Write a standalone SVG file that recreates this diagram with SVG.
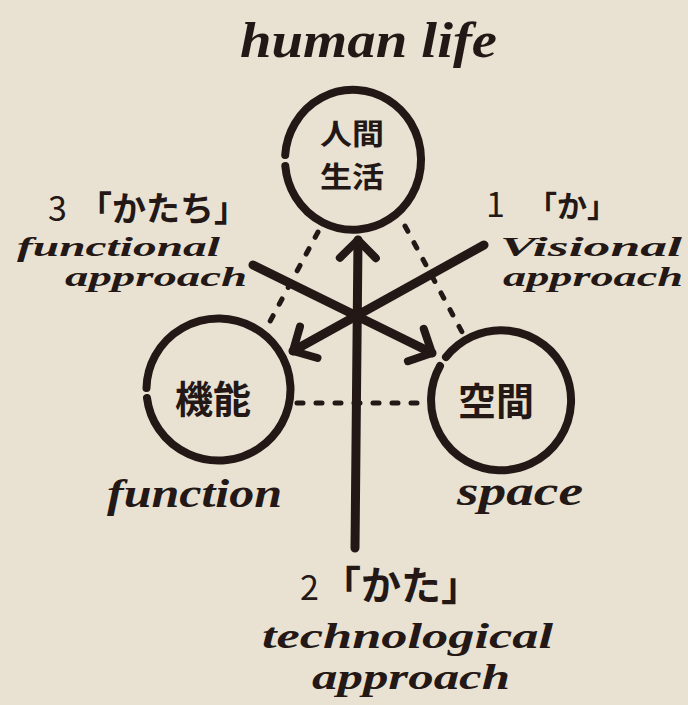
<svg xmlns="http://www.w3.org/2000/svg" width="688" height="705" viewBox="0 0 688 705">
  <style>
    .ink { stroke: #231815; fill: none; stroke-linecap: round; stroke-linejoin: round; }
    .ring { stroke-width: 8; }
    .arrow { stroke-width: 9; }
    .dash { stroke-width: 5; stroke-dasharray: 6 13; }
    .hand { font-family: "Liberation Serif", "DejaVu Serif", serif; font-style: italic; font-weight: 700; fill: #231815; }
    .jp { font-family: "Noto Sans CJK JP", "Noto Sans CJK SC", sans-serif; font-weight: 700; fill: #231815; }
  </style>
  <defs>
    <marker id="chev" markerUnits="userSpaceOnUse" viewBox="-30 -30 60 60" markerWidth="60" markerHeight="60" refX="0" refY="0" orient="auto" overflow="visible">
      <path class="ink" d="M-18,-18 L0,0 L-18,18" stroke-width="8"/>
    </marker>
  </defs>
  <rect width="688" height="705" fill="#e9e2d2"/>

  <text class="hand" x="240" y="57" font-size="50" textLength="257" lengthAdjust="spacingAndGlyphs">human life</text>

  <g id="connectors">
    <path class="ink dash" d="M318,232 L267,327"/>
    <path class="ink dash" d="M405,226 L462,332"/>
    <path class="ink dash" d="M297,403 L425,403"/>
    <path class="ink arrow" d="M355,548 L358,240" marker-end="url(#chev)"/>
    <path class="ink arrow" d="M484,245 L293,351" marker-end="url(#chev)"/>
    <path class="ink arrow" d="M253,265 L432,353" marker-end="url(#chev)"/>
  </g>

  <g id="node-human-life">
    <path class="ink ring" d="M285.2,155 A68 70 0 1 1 285.3,166"/>
    <text class="jp" x="352" y="145" font-size="29" text-anchor="middle" textLength="64" lengthAdjust="spacingAndGlyphs">人間</text>
    <text class="jp" x="352" y="188" font-size="29" text-anchor="middle" textLength="64" lengthAdjust="spacingAndGlyphs">生活</text>
  </g>

  <g id="node-function">
    <path class="ink ring" d="M146.5,388 A72 71 0 1 1 147,398"/>
    <text class="jp" x="213" y="413" font-size="38" text-anchor="middle">機能</text>
    <text class="hand" x="107" y="507" font-size="40" textLength="175" lengthAdjust="spacingAndGlyphs">function</text>
  </g>

  <g id="node-space">
    <path class="ink ring" d="M446,357 A70 70 0 1 1 440,366"/>
    <text class="jp" x="496" y="415" font-size="38" text-anchor="middle">空間</text>
    <text class="hand" x="457" y="505" font-size="40" textLength="126" lengthAdjust="spacingAndGlyphs">space</text>
  </g>

  <g id="label-functional">
    <text class="jp" y="221"><tspan x="48" font-size="34" font-weight="400">3</tspan><tspan x="78" font-size="34">「かたち」</tspan></text>
    <text class="hand" x="17" y="256" font-size="27" textLength="203" lengthAdjust="spacingAndGlyphs">functional</text>
    <text class="hand" x="65" y="286" font-size="27" textLength="182" lengthAdjust="spacingAndGlyphs">approach</text>
  </g>

  <g id="label-visional">
    <text class="jp" y="217"><tspan x="486" font-size="34" font-weight="400">1</tspan><tspan x="527" font-size="30">「か」</tspan></text>
    <text class="hand" x="500" y="256" font-size="27" textLength="182" lengthAdjust="spacingAndGlyphs">Visional</text>
    <text class="hand" x="503" y="286" font-size="27" textLength="180" lengthAdjust="spacingAndGlyphs">approach</text>
  </g>

  <g id="label-technological">
    <text class="jp" y="600"><tspan x="300" font-size="34" font-weight="400">2</tspan><tspan x="321" font-size="40">「かた」</tspan></text>
    <text class="hand" x="262" y="648" font-size="36" textLength="291" lengthAdjust="spacingAndGlyphs">technological</text>
    <text class="hand" x="312" y="689" font-size="36" textLength="198" lengthAdjust="spacingAndGlyphs">approach</text>
  </g>
</svg>
